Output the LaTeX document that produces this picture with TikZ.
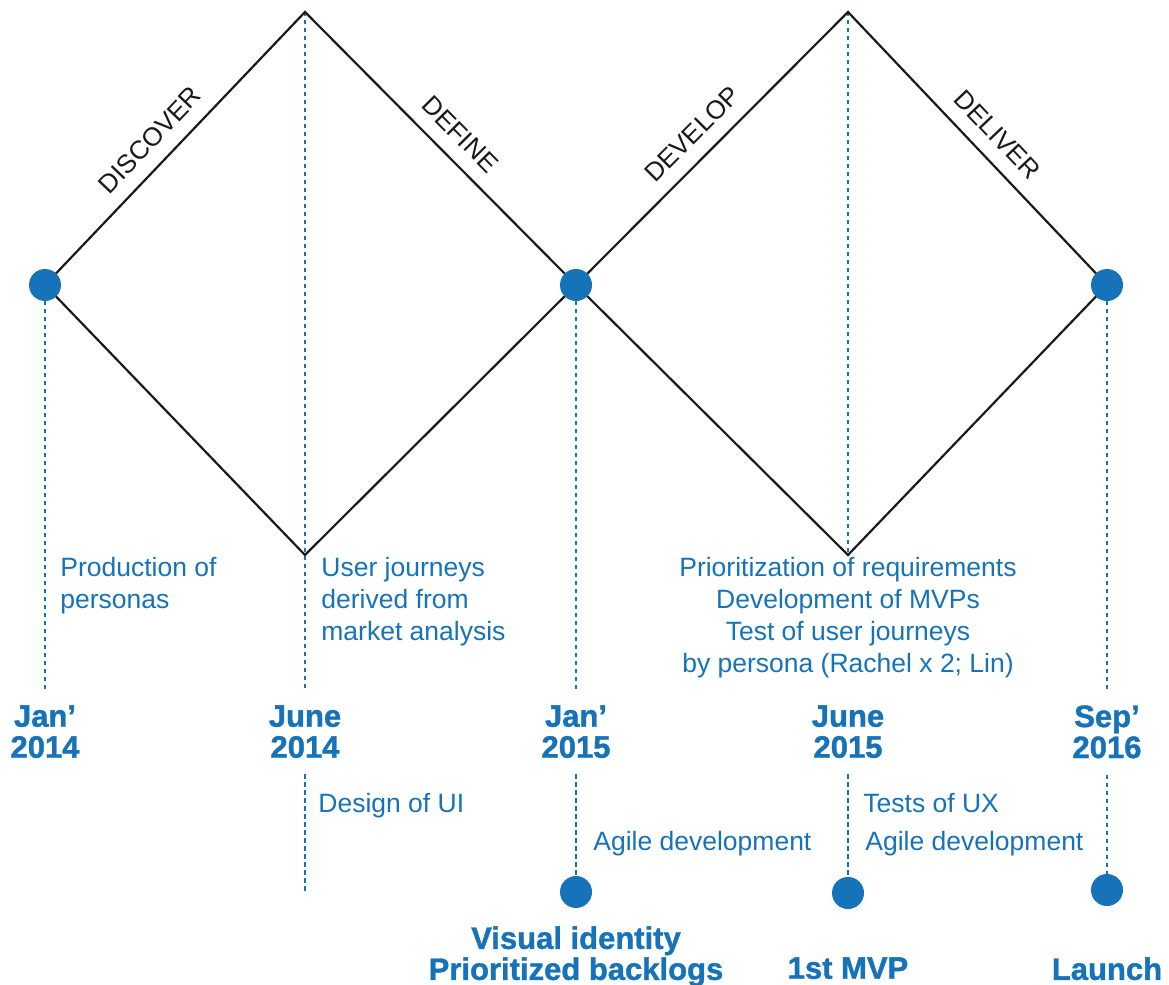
\documentclass[tikz,border=0pt]{standalone}
\usepackage{fontspec}
\setmainfont{Liberation Sans}
\newfontfamily\heavyfont{Liberation Sans Bold}[FakeBold=1.2]
\usepackage{xcolor}
\usetikzlibrary{positioning}
\definecolor{ink}{HTML}{1A1A1A}
\definecolor{blue}{HTML}{1673BA}

\begin{document}
\begin{tikzpicture}[
  x=0.5pt, y=-0.5pt,
  phase/.style={draw=ink, line width=1.1pt, line join=miter},
  guide/.style={draw=blue, line width=0.9pt, dash pattern=on 2.2pt off 1.8pt},
  milestone/.style={circle, fill=blue, minimum size=16pt, inner sep=0pt},
  stagelabel/.style={sloped, above, inner sep=7pt, font=\fontsize{13}{15}\selectfont, text=ink},
  note/.style={font=\fontsize{13.25}{16}\selectfont, text=blue, inner sep=0pt},
  date/.style={font=\fontsize{15.5}{15.5}\heavyfont, text=blue, align=center, inner sep=0pt},
  outcome/.style={font=\fontsize{15.5}{15.5}\heavyfont, text=blue, align=center, inner sep=0pt}
]

\fill[white] (0,0) rectangle (1169,985);
\useasboundingbox (0,0) rectangle (1169,985);

% diamond corners
\coordinate (c-jan14) at (45,285);
\coordinate (c-jan15) at (576,285);
\coordinate (c-sep16) at (1107,285);
\coordinate (top1) at (305,12);
\coordinate (bot1) at (305,555);
\coordinate (top2) at (848,12);
\coordinate (bot2) at (848,555);
\coordinate (end-jun14) at (305,893);

% dates
\node[date, anchor=north] (d-jan14) at (45,705) {Jan’\\2014};
\node[date, anchor=north] (d-jun14) at (305,705) {June\\2014};
\node[date, anchor=north] (d-jan15) at (576,705) {Jan’\\2015};
\node[date, anchor=north] (d-jun15) at (848,705) {June\\2015};
\node[date, anchor=north] (d-sep16) at (1107,705) {Sep’\\2016};

% lower milestones
\node[milestone] (m-jan15) at (576,892) {};
\node[milestone] (m-jun15) at (848,893) {};
\node[milestone] (m-sep16) at (1107,890) {};

% guides
\draw[guide, shorten >=7.5pt] (c-jan14) -- (d-jan14.north);
\draw[guide, shorten >=7.5pt] (top1) -- (d-jun14.north);
\draw[guide, shorten >=7.5pt] (c-jan15) -- (d-jan15.north);
\draw[guide] (top2) -- (bot2);
\draw[guide, shorten >=7.5pt] (c-sep16) -- (d-sep16.north);

\draw[guide, shorten <=8pt] (d-jun14.south) -- (end-jun14);
\draw[guide, shorten <=8pt] (d-jan15.south) -- (m-jan15.north);
\draw[guide, shorten <=8pt] (d-jun15.south) -- (m-jun15.north);
\draw[guide, shorten <=8pt] (d-sep16.south) -- (m-sep16.north);

% double diamond
\draw[phase] (c-jan14) -- node[stagelabel, pos=0.47] {DISCOVER} (top1)
  -- node[stagelabel, pos=0.51] {DEFINE} (c-jan15) -- (bot1) -- cycle;
\draw[phase] (c-jan15) -- node[stagelabel, pos=0.49] {DEVELOP} (top2)
  -- node[stagelabel, pos=0.51] {DELIVER} (c-sep16) -- (bot2) -- cycle;

\node[milestone] (jan14) at (c-jan14) {};
\node[milestone] (jan15) at (c-jan15) {};
\node[milestone] (sep16) at (c-sep16) {};

% notes
\node[note, anchor=north west, align=left] (n-personas) at (60,557) {Production of\\personas};
\node[note, anchor=north west, align=left] (n-journeys) at (321,557) {User journeys\\derived from\\market analysis};
\node[note, anchor=north, align=center] (n-mvps) at (848,557)
  {Prioritization of requirements\\Development of MVPs\\Test of user journeys\\by persona (Rachel x 2; Lin)};
\node[note, anchor=north west] (n-ui) at (318,793) {Design of UI};
\node[note, anchor=north west] (n-agile1) at (593,831) {Agile development};
\node[note, anchor=north west] (n-ux) at (863,793) {Tests of UX};
\node[note, anchor=north west] (n-agile2) at (865,831) {Agile development};

% outcomes
\node[outcome, anchor=north] (o-jan15) at (576,926) {Visual identity\\Prioritized backlogs};
\node[outcome, anchor=north] (o-jun15) at (848,957) {1st MVP};
\node[outcome, anchor=north] (o-sep16) at (1107,957) {Launch};

\end{tikzpicture}
\end{document}
